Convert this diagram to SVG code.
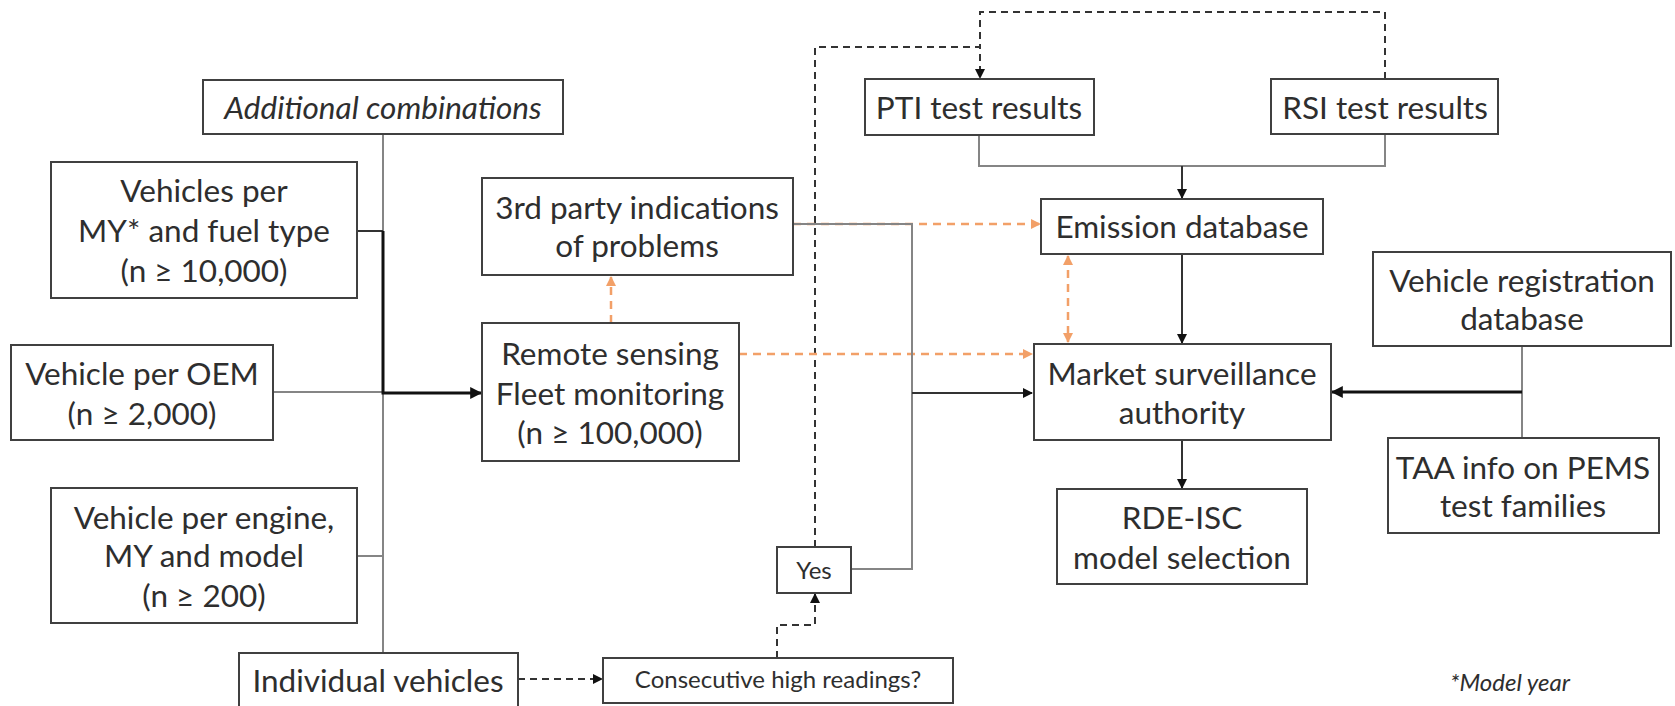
<svg xmlns="http://www.w3.org/2000/svg" width="1675" height="706" viewBox="0 0 1675 706">
  <style>
    .box { fill: #ffffff; stroke: #404040; stroke-width: 2; }
    .t { font-family: Lato, "Liberation Sans", sans-serif; font-size: 31.5px; fill: #2e2e2e; text-anchor: middle; dominant-baseline: central; }
    .it { font-style: italic; }
    .sm { font-size: 24px; }
    .gray { fill: none; stroke: #858585; stroke-width: 2; }
    .dark { fill: none; stroke: #333333; stroke-width: 2; }
    .bold { fill: none; stroke: #111111; stroke-width: 3; }
    .dash { fill: none; stroke: #333333; stroke-width: 2; stroke-dasharray: 7 5; }
    .orange { fill: none; stroke: #f2a068; stroke-width: 2.5; stroke-dasharray: 8 6; }
  </style>
  <defs>
    <marker id="ah" viewBox="0 0 10 10" refX="9" refY="5" markerWidth="10" markerHeight="10" markerUnits="userSpaceOnUse" orient="auto">
      <path d="M0,0 L10,5 L0,10 z" fill="#111111"/>
    </marker>
    <marker id="ahBig" viewBox="0 0 10 10" refX="9" refY="5" markerWidth="12" markerHeight="12" markerUnits="userSpaceOnUse" orient="auto">
      <path d="M0,0 L10,5 L0,10 z" fill="#111111"/>
    </marker>
    <marker id="ahOr" viewBox="0 0 10 10" refX="9" refY="5" markerWidth="10" markerHeight="10" markerUnits="userSpaceOnUse" orient="auto-start-reverse">
      <path d="M0,0 L10,5 L0,10 z" fill="#f2a068"/>
    </marker>
  </defs>

  <!-- connectors -->
  <g id="connectors">
    <!-- left trunk collecting the vehicle groupings -->
    <path class="gray" d="M383,134 V653"/>
    <path class="gray" d="M273,392 H383"/>
    <path class="gray" d="M357,556 H383"/>
    <path class="dark" d="M357,231 H383"/>
    <path class="bold" d="M383,231 V393 H481" marker-end="url(#ahBig)"/>

    <!-- individual vehicles to consecutive readings check -->
    <path class="dash" d="M518,679 H602" marker-end="url(#ah)"/>
    <path class="dash" d="M777,658 V625 H815 V594" marker-end="url(#ah)"/>
    <path class="dash" d="M815,547 V47 H980 V78" marker-end="url(#ah)"/>
    <path class="dash" d="M1385,79 V12 H980 V47"/>

    <!-- inspection results into emission database -->
    <path class="gray" d="M979,135 V166 H1385 V134"/>
    <path class="dark" d="M1182,166 V198" marker-end="url(#ah)"/>
    <path class="dark" d="M1182,254 V343" marker-end="url(#ah)"/>

    <!-- orange information flows -->
    <path class="orange" d="M1068,256 V342" marker-start="url(#ahOr)" marker-end="url(#ahOr)"/>
    <path class="orange" d="M793,224 H1040" marker-end="url(#ahOr)"/>
    <path class="orange" d="M739,354 H1032" marker-end="url(#ahOr)"/>
    <path class="orange" d="M611,323 V277" marker-end="url(#ahOr)"/>

    <!-- third party / yes into market surveillance -->
    <path class="gray" d="M793,224 H912 V569 H851"/>
    <path class="dark" d="M912,393 H1032" marker-end="url(#ah)"/>

    <!-- registration data into market surveillance -->
    <path class="gray" d="M1522,346 V438"/>
    <path class="bold" d="M1522,392 H1332" marker-end="url(#ahBig)"/>

    <path class="dark" d="M1182,440 V488" marker-end="url(#ah)"/>
  </g>

  <!-- nodes -->
  <g id="additional">
    <rect class="box" x="203" y="80" width="360" height="54"/>
    <text class="t it" x="383" y="107">Additional combinations</text>
  </g>
  <g id="per-my-fuel">
    <rect class="box" x="51" y="162" width="306" height="136"/>
    <text class="t" x="204" y="190">Vehicles per</text>
    <text class="t" x="204" y="230">MY* and fuel type</text>
    <text class="t" x="204" y="270">(n ≥ 10,000)</text>
  </g>
  <g id="per-oem">
    <rect class="box" x="11" y="345" width="262" height="95"/>
    <text class="t" x="142" y="373">Vehicle per OEM</text>
    <text class="t" x="142" y="413">(n ≥ 2,000)</text>
  </g>
  <g id="per-engine">
    <rect class="box" x="51" y="488" width="306" height="135"/>
    <text class="t" x="204" y="517">Vehicle per engine,</text>
    <text class="t" x="204" y="555">MY and model</text>
    <text class="t" x="204" y="595">(n ≥ 200)</text>
  </g>
  <g id="individual">
    <rect class="box" x="239" y="653" width="279" height="60"/>
    <text class="t" x="378" y="680">Individual vehicles</text>
  </g>
  <g id="third-party">
    <rect class="box" x="482" y="178" width="311" height="97"/>
    <text class="t" x="637" y="207">3rd party indications</text>
    <text class="t" x="637" y="245">of problems</text>
  </g>
  <g id="remote-sensing">
    <rect class="box" x="482" y="323" width="257" height="138"/>
    <text class="t" x="610" y="353">Remote sensing</text>
    <text class="t" x="610" y="393">Fleet monitoring</text>
    <text class="t" x="610" y="432">(n ≥ 100,000)</text>
  </g>
  <g id="yes">
    <rect class="box" x="777" y="547" width="74" height="46"/>
    <text class="t sm" x="814" y="569">Yes</text>
  </g>
  <g id="consecutive">
    <rect class="box" x="603" y="658" width="350" height="45"/>
    <text class="t sm" x="778" y="678">Consecutive high readings?</text>
  </g>
  <g id="pti">
    <rect class="box" x="865" y="79" width="229" height="56"/>
    <text class="t" x="979" y="107">PTI test results</text>
  </g>
  <g id="rsi">
    <rect class="box" x="1271" y="79" width="227" height="55"/>
    <text class="t" x="1385" y="107">RSI test results</text>
  </g>
  <g id="emission-db">
    <rect class="box" x="1041" y="199" width="282" height="55"/>
    <text class="t" x="1182" y="226">Emission database</text>
  </g>
  <g id="market-surveillance">
    <rect class="box" x="1034" y="344" width="297" height="96"/>
    <text class="t" x="1182" y="373">Market surveillance</text>
    <text class="t" x="1182" y="412">authority</text>
  </g>
  <g id="rde-isc">
    <rect class="box" x="1057" y="489" width="250" height="95"/>
    <text class="t" x="1182" y="517">RDE-ISC</text>
    <text class="t" x="1182" y="557">model selection</text>
  </g>
  <g id="registration-db">
    <rect class="box" x="1373" y="252" width="298" height="94"/>
    <text class="t" x="1522" y="280">Vehicle registration</text>
    <text class="t" x="1522" y="318">database</text>
  </g>
  <g id="taa-info">
    <rect class="box" x="1388" y="438" width="271" height="95"/>
    <text class="t" x="1523" y="467">TAA info on PEMS</text>
    <text class="t" x="1523" y="505">test families</text>
  </g>

  <text class="t it sm" x="1510" y="681">*Model year</text>
</svg>
